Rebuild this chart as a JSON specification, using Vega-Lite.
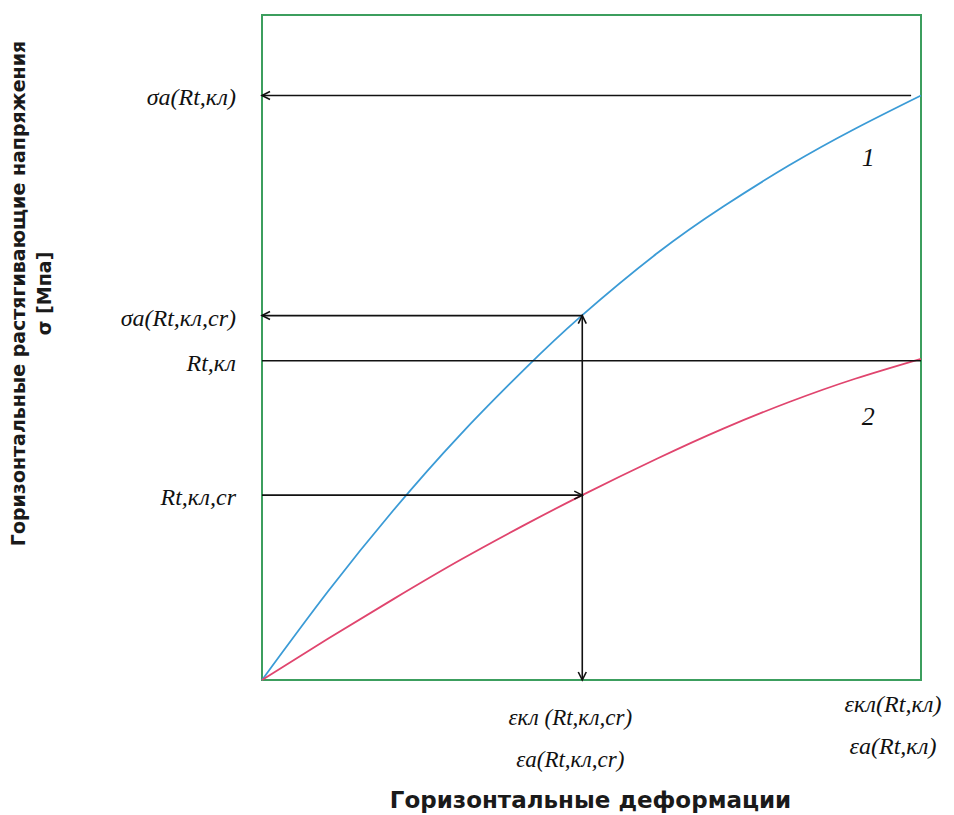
{
  "$schema": "https://vega.github.io/schema/vega-lite/v6.json",
  "autosize": "none",
  "width": 659,
  "height": 665,
  "padding": {"left": 262, "top": 15, "right": 33, "bottom": 135},
  "background": "white",
  "config": {
    "view": {"stroke": "#3c9e5e", "strokeWidth": 2},
    "text": {"lineBreak": "\n"}
  },
  "datasets": {
    "curves": [
      {"curve": "1", "x": 0, "y": 0},
      {"curve": "1", "x": 10, "y": 13.3},
      {"curve": "1", "x": 20, "y": 25.6},
      {"curve": "1", "x": 30, "y": 36.8},
      {"curve": "1", "x": 40, "y": 46.9},
      {"curve": "1", "x": 48.3, "y": 54.6},
      {"curve": "1", "x": 60, "y": 64.2},
      {"curve": "1", "x": 70, "y": 71.2},
      {"curve": "1", "x": 80, "y": 77.4},
      {"curve": "1", "x": 90, "y": 82.9},
      {"curve": "1", "x": 100, "y": 87.9},
      {"curve": "2", "x": 0, "y": 0},
      {"curve": "2", "x": 10, "y": 6.2},
      {"curve": "2", "x": 20, "y": 12.2},
      {"curve": "2", "x": 30, "y": 18.0},
      {"curve": "2", "x": 40, "y": 23.4},
      {"curve": "2", "x": 48.6, "y": 27.8},
      {"curve": "2", "x": 60, "y": 33.3},
      {"curve": "2", "x": 70, "y": 37.8},
      {"curve": "2", "x": 80, "y": 41.8},
      {"curve": "2", "x": 90, "y": 45.3},
      {"curve": "2", "x": 100, "y": 48.3}
    ],
    "segments": [
      {"x": 0, "x2": 98.5, "y": 87.9, "y2": 87.9},
      {"x": 0, "x2": 48.6, "y": 54.8, "y2": 54.8},
      {"x": 0, "x2": 100, "y": 48.0, "y2": 48.0},
      {"x": 0, "x2": 48.6, "y": 27.8, "y2": 27.8},
      {"x": 48.6, "x2": 48.6, "y": 0, "y2": 54.8}
    ],
    "arrows": [
      {"x": 0, "y": 87.9, "dir": "left"},
      {"x": 0, "y": 54.8, "dir": "left"},
      {"x": 48.6, "y": 27.8, "dir": "right"},
      {"x": 48.6, "y": 54.8, "dir": "up"},
      {"x": 48.6, "y": 0, "dir": "down"}
    ],
    "ylabels": [
      {"y": 87.9, "label": "σa(Rt,кл)"},
      {"y": 54.8, "label": "σa(Rt,кл,cr)"},
      {"y": 48.0, "label": "Rt,кл"},
      {"y": 27.8, "label": "Rt,кл,cr"}
    ],
    "xlabels": [
      {"x": 48.6, "pos": "mid", "label": "εкл (Rt,кл,cr)\nεa(Rt,кл,cr)"},
      {"x": 100, "pos": "end", "label": "εкл(Rt,кл)\nεa(Rt,кл)"}
    ],
    "curvelabels": [
      {"x": 92, "y": 78.5, "label": "1"},
      {"x": 92, "y": 39.5, "label": "2"}
    ]
  },
  "layer": [
    {
      "data": {"name": "curves"},
      "mark": {"type": "line", "interpolate": "natural", "strokeWidth": 1.8},
      "encoding": {
        "x": {
          "field": "x", "type": "quantitative",
          "scale": {"domain": [0, 100], "nice": false, "zero": false},
          "axis": {
            "title": "Горизонтальные деформации",
            "labels": false, "ticks": false, "domain": false, "grid": false,
            "titleFont": "DejaVu Sans", "titleFontSize": 23, "titleFontWeight": "bold",
            "titleColor": "#1a1a1a", "titleX": 328, "titleY": 120, "titleBaseline": "middle"
          }
        },
        "y": {
          "field": "y", "type": "quantitative",
          "scale": {"domain": [0, 100], "nice": false, "zero": false},
          "axis": {
            "title": ["Горизонтальные растягивающие напряжения", "σ [Мпа]"],
            "labels": false, "ticks": false, "domain": false, "grid": false,
            "titleFont": "DejaVu Sans", "titleFontSize": 19, "titleFontWeight": "bold",
            "titleColor": "#1a1a1a", "titleX": -244, "titleY": 278,
            "titleAngle": 270, "titleAlign": "center", "titleBaseline": "middle", "titleLineHeight": 26
          }
        },
        "color": {
          "field": "curve", "type": "nominal",
          "scale": {"domain": ["1", "2"], "range": ["#3b9bd6", "#e0456e"]},
          "legend": null
        }
      }
    },
    {
      "data": {"name": "segments"},
      "mark": {"type": "rule", "color": "#111111", "strokeWidth": 1.6},
      "encoding": {
        "x": {"field": "x", "type": "quantitative"},
        "x2": {"field": "x2"},
        "y": {"field": "y", "type": "quantitative"},
        "y2": {"field": "y2"}
      }
    },
    {
      "data": {"name": "arrows"},
      "mark": {
        "type": "point", "filled": false, "stroke": "#111111",
        "strokeWidth": 1.6, "size": 100, "opacity": 1
      },
      "encoding": {
        "x": {"field": "x", "type": "quantitative"},
        "y": {"field": "y", "type": "quantitative"},
        "shape": {
          "field": "dir", "type": "nominal",
          "scale": {
            "domain": ["left", "right", "up", "down"],
            "range": ["M1.6,-0.8L0,0L1.6,0.8", "M-1.6,-0.8L0,0L-1.6,0.8", "M-0.8,1.6L0,0L0.8,1.6", "M-0.8,-1.6L0,0L0.8,-1.6"]
          },
          "legend": null
        }
      }
    },
    {
      "data": {"name": "ylabels"},
      "mark": {
        "type": "text", "align": "right", "baseline": "middle", "dx": -26, "dy": 3,
        "font": "Liberation Serif", "fontStyle": "italic", "fontSize": 24, "color": "#111111", "clip": false
      },
      "encoding": {
        "x": {"datum": 0},
        "y": {"field": "y", "type": "quantitative"},
        "text": {"field": "label"}
      }
    },
    {
      "data": {"name": "xlabels"},
      "transform": [{"filter": "datum.pos === 'mid'"}],
      "mark": {
        "type": "text", "align": "center", "baseline": "middle", "dx": -12, "dy": 38, "lineHeight": 42,
        "font": "Liberation Serif", "fontStyle": "italic", "fontSize": 23, "color": "#111111"
      },
      "encoding": {
        "x": {"field": "x", "type": "quantitative"},
        "y": {"datum": 0},
        "text": {"field": "label"}
      }
    },
    {
      "data": {"name": "xlabels"},
      "transform": [{"filter": "datum.pos === 'end'"}],
      "mark": {
        "type": "text", "align": "center", "baseline": "middle", "dx": -28, "dy": 25, "lineHeight": 42,
        "font": "Liberation Serif", "fontStyle": "italic", "fontSize": 24, "color": "#111111"
      },
      "encoding": {
        "x": {"field": "x", "type": "quantitative"},
        "y": {"datum": 0},
        "text": {"field": "label"}
      }
    },
    {
      "data": {"name": "curvelabels"},
      "mark": {
        "type": "text", "align": "center", "baseline": "middle",
        "font": "Liberation Serif", "fontStyle": "italic", "fontSize": 26, "color": "#111111"
      },
      "encoding": {
        "x": {"field": "x", "type": "quantitative"},
        "y": {"field": "y", "type": "quantitative"},
        "text": {"field": "label"}
      }
    }
  ]
}
